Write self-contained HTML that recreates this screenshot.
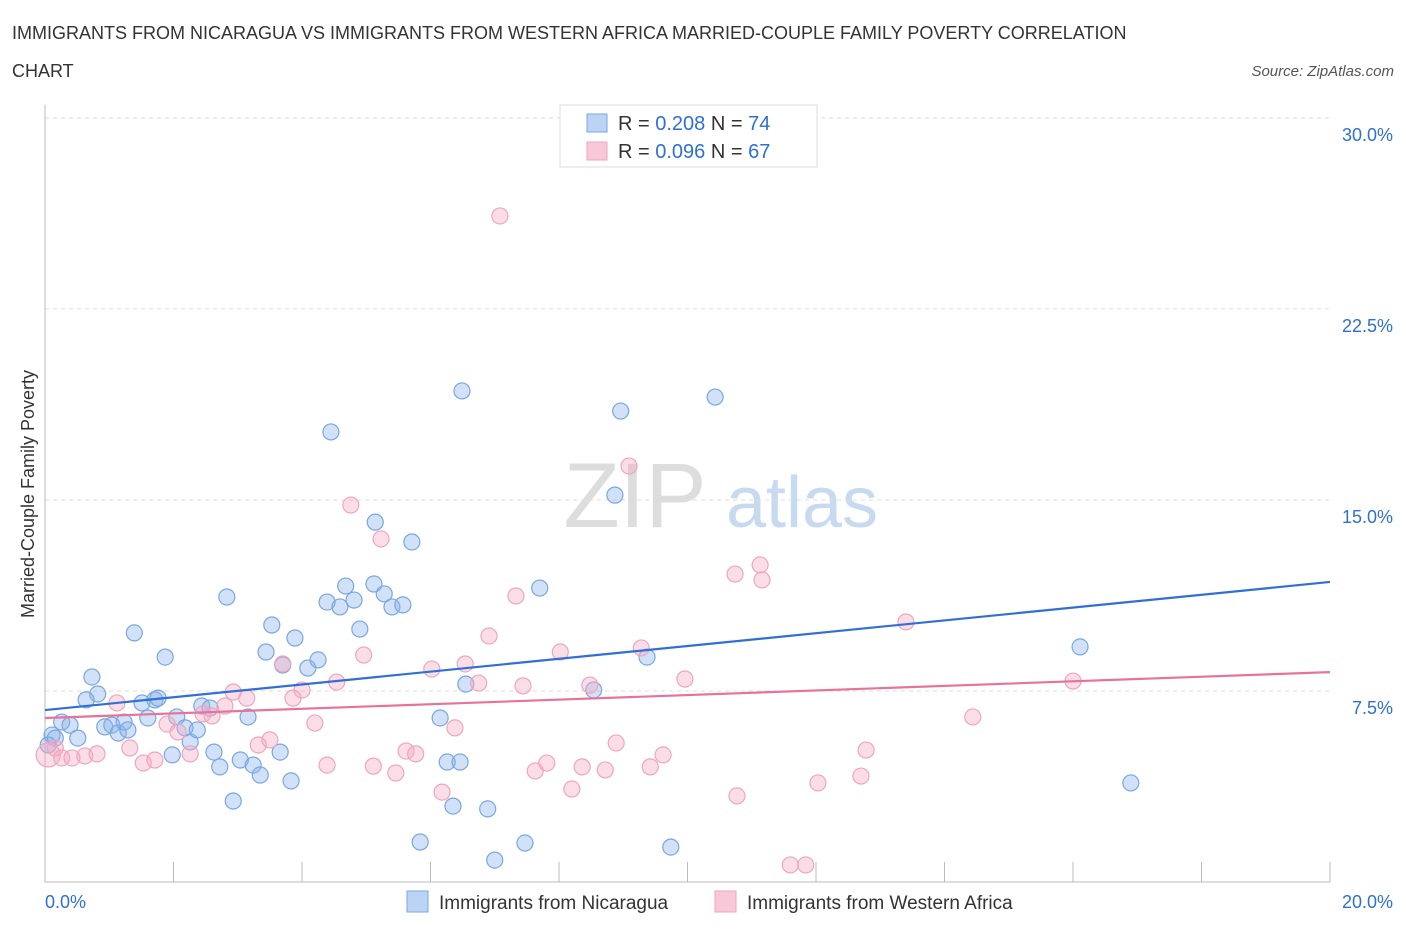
<!DOCTYPE html>
<html><head><meta charset="utf-8"><style>
body{margin:0;background:#fff;font-family:"Liberation Sans",sans-serif;}
svg text{font-family:"Liberation Sans",sans-serif;}
</style></head><body>
<svg id="chart" width="1406" height="930" xmlns="http://www.w3.org/2000/svg">
<text x="12" y="39" font-size="18" fill="#333">IMMIGRANTS FROM NICARAGUA VS IMMIGRANTS FROM WESTERN AFRICA MARRIED-COUPLE FAMILY POVERTY CORRELATION</text>
<text x="12" y="77" font-size="18" fill="#333">CHART</text>
<text x="1394" y="76" font-size="15" fill="#555" font-style="italic" text-anchor="end">Source: ZipAtlas.com</text>
<text transform="translate(34,494) rotate(-90)" font-size="18" fill="#333" text-anchor="middle">Married-Couple Family Poverty</text>
<g>
<text x="635" y="527" font-size="92" fill="#ddd" font-family="Liberation Serif" text-anchor="middle">ZIP</text>
<text x="802" y="527" font-size="72" fill="#c8daf0" text-anchor="middle">atlas</text>
</g>
<g id="grid"></g><g id="axes"></g><g id="pts"></g><g id="trend"></g>
<g>
<rect x="560" y="105" width="257" height="62" fill="#fff" stroke="#ddd"/>
<rect x="587" y="114" width="20" height="18" fill="#bcd4f4" stroke="#7aa7e0"/>
<text x="618" y="130" font-size="20" fill="#333">R = <tspan fill="#2f6fd6">0.208</tspan>   N = <tspan fill="#2f6fd6">74</tspan></text>
<rect x="587" y="142" width="20" height="18" fill="#f8c8d8" stroke="#eea6bf"/>
<text x="618" y="158" font-size="20" fill="#333">R = <tspan fill="#2f6fd6">0.096</tspan>   N = <tspan fill="#2f6fd6">67</tspan></text>
</g>
<g>
<rect x="407" y="891" width="21" height="21" fill="#bcd4f4" stroke="#7aa7e0"/>
<text x="439" y="909" font-size="19" fill="#333">Immigrants from Nicaragua</text>
<rect x="715" y="891" width="21" height="21" fill="#f8c8d8" stroke="#eea6bf"/>
<text x="747" y="909" font-size="19" fill="#333">Immigrants from Western Africa</text>
</g>
</svg>
<script>
const yTicks=[7.5,15,22.5,30];
const yTickLabels=["7.5%","15.0%","22.5%","30.0%"];
const xTickLabels=["0.0%","20.0%"];
const blueX=[.11,.16,.26,.39,.51,.73,.82,.64,.93,1.04,1.14,1.23,1.29,1.39,1.51,1.60,1.71,1.76,1.87,1.98,2.05,2.18,2.26,2.37,2.44,2.57,2.63,2.72,2.83,2.93,3.04,3.16,3.24,3.35,3.44,3.53,3.66,3.70,3.83,3.89,4.09,4.25,4.39,4.45,4.59,4.68,4.81,4.90,5.14,5.12,5.28,5.40,5.57,5.71,5.84,6.15,6.26,6.35,6.46,6.49,6.55,6.89,7.00,7.47,7.70,8.54,8.87,8.96,9.37,9.74,10.43,16.11,16.90,.05];
const blueY=[5.77,5.65,6.28,6.16,5.65,8.05,7.38,7.15,6.09,6.16,5.85,6.28,5.97,9.78,7.03,6.44,7.15,7.22,8.83,4.99,6.48,6.05,5.50,5.97,6.91,6.83,5.10,4.52,11.19,3.18,4.79,6.48,4.59,4.20,9.03,10.09,5.10,8.52,3.97,9.58,8.40,8.72,10.99,17.67,10.80,11.62,11.07,9.93,14.13,11.70,11.31,10.80,10.88,13.35,1.57,6.44,4.71,2.98,4.71,19.28,7.77,2.87,0.86,1.53,11.54,7.54,15.19,18.49,8.83,1.37,19.04,9.23,3.89,5.38];
const pinkX=[.05,.16,.26,.42,.62,.81,1.12,1.32,1.53,1.71,1.90,2.07,2.26,2.46,2.60,2.80,2.93,3.14,3.32,3.50,3.70,3.86,4.00,4.20,4.39,4.54,4.76,4.96,5.11,5.23,5.46,5.62,5.77,6.02,6.18,6.38,6.54,6.75,7.08,7.33,6.91,7.44,7.63,7.81,8.02,8.20,8.36,8.48,8.72,8.89,9.09,9.28,9.42,9.62,9.96,10.77,10.74,11.13,11.16,11.60,11.84,12.03,12.70,12.78,13.40,14.44,16.00];
const pinkY=[4.99,5.26,4.87,4.87,4.95,5.03,7.03,5.26,4.67,4.79,6.20,5.89,5.03,6.60,6.52,6.91,7.46,7.22,5.38,5.58,8.56,7.22,7.54,6.24,4.59,7.85,14.80,8.91,4.55,13.47,4.28,5.14,5.03,8.36,3.53,6.05,8.56,7.81,26.15,11.23,9.66,7.70,4.36,4.67,9.03,3.65,4.52,7.73,4.40,5.46,16.33,9.19,4.52,4.99,7.97,3.38,12.09,12.45,11.86,0.67,0.67,3.89,4.16,5.18,10.21,6.48,7.89];
const blueTrend=[6.75,11.78];
const pinkTrend=[6.44,8.24];
const X=v=>45+v*64.25, Y=v=>882-v*25.47;
const NS="http://www.w3.org/2000/svg";
function mk(parent,tag,attrs){const e=document.createElementNS(NS,tag);for(const k in attrs)e.setAttribute(k,attrs[k]);document.getElementById(parent).appendChild(e);return e;}
yTicks.forEach((t,i)=>{
 const l=mk('grid','line',{x1:45,x2:1330,y1:Y(t),y2:Y(t),stroke:'#ddd','stroke-dasharray':'4,4'});
 
 
 const tx=mk('axes','text',{x:1393,y:Y(t)+23,'font-size':18,fill:'#2f6fd6','text-anchor':'end'});
 tx.textContent=yTickLabels[i];
 
 
});
const a1=mk('axes','line',{x1:45,x2:45,y1:105,y2:882,stroke:'#bbb'});


const a2=mk('axes','line',{x1:45,x2:1330,y1:882,y2:882,stroke:'#bbb'});


for(let v=0;v<=20;v+=2){
 const t=mk('axes','line',{x1:X(v),x2:X(v),y1:862,y2:882,stroke:'#bbb'});
 
 
}
[[0,'start',45],[20,'end',1393]].forEach((d,i)=>{
 const t=mk('axes','text',{x:d[2],y:908,'font-size':18,fill:'#2f6fd6','text-anchor':d[1]});
 t.textContent=xTickLabels[i];
 
 
});
blueX.forEach((x,i)=>{
 const c=mk('pts','circle',{cx:X(x),cy:Y(blueY[i]),r:8,fill:'rgba(140,180,235,0.4)',stroke:'#7aa7e0','stroke-width':1.2});
 
 
});
pinkX.forEach((x,i)=>{
 const c=mk('pts','circle',{cx:X(x),cy:Y(pinkY[i]),r:i==0?12:8,fill:'rgba(245,170,195,0.4)',stroke:'#eea6bf','stroke-width':1.2});
 
 
});
const tb=mk('trend','line',{x1:X(0),y1:Y(blueTrend[0]),x2:X(20),y2:Y(blueTrend[1]),stroke:'#2f6fd6','stroke-width':2.2});


const tp=mk('trend','line',{x1:X(0),y1:Y(pinkTrend[0]),x2:X(20),y2:Y(pinkTrend[1]),stroke:'#e8739a','stroke-width':2.2});


</script>
</body></html>
